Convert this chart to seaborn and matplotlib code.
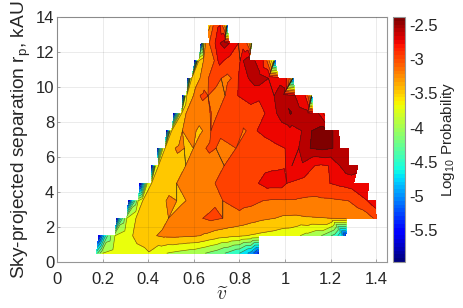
import numpy as np
import matplotlib
matplotlib.use("Agg")
import matplotlib.pyplot as plt
import matplotlib.tri as mtri
import seaborn as sns

# log10 probability read along each separation row (kAU)
x_05 = [.173, .2, .25, .30, .35, .40, .45, .5, .55, .6, .65, .7, .75, .8, .85, .885]
z_05 = [-4.6, -4.0, -3.9, -3.85, -3.8, -3.77, -3.95, -4.03, -4.09, -4.15, -4.25, -4.37, -4.55, -4.75, -5.1, -5.6]
x_15 = [.183, .205, .225, .254, .3, .332, .35, .40, .437, .47, .52, .55, .6, .627, .65, .7, .75, .8, .85, .885, .95, 1.0, 1.066, 1.1, 1.15, 1.22, 1.25, 1.267]
z_15 = [-5.8, -5, -4.4, -4, -3.85, -3.75, -3.71, -3.59, -3.5, -3.46, -3.45, -3.46, -3.48, -3.5, -3.54, -3.63, -3.68, -3.72, -3.77, -3.8, -3.85, -3.91, -4, -4.08, -4.2, -4.6, -5, -5.6]
x_25 = [.262, .275, .29, .306, .346, .4, .45, .489, .55, .6, .639, .68, .727, .75, .8, .85, .9, .956, 1.0, 1.05, 1.1, 1.15, 1.2, 1.27, 1.32, 1.36, 1.40]
z_25 = [-5.9, -5, -4.4, -4, -3.75, -3.65, -3.57, -3.5, -3.4, -3.31, -3.25, -3.2, -3.25, -3.28, -3.33, -3.4, -3.46, -3.5, -3.54, -3.55, -3.52, -3.51, -3.5, -3.48, -3.42, -3.36, -3.2]
x_35 = [.313, .33, .345, .356, .376, .43, .478, .50, .525, .545, .566, .6, .65, .7, .727, .8, .85, .902, .95, 1.0, 1.05, 1.1, 1.15, 1.2, 1.278, 1.32, 1.362, 1.395]
z_35 = [-5.9, -5, -4.4, -4, -3.75, -3.62, -3.5, -3.45, -3.5, -3.53, -3.5, -3.42, -3.35, -3.28, -3.25, -3.15, -3.18, -3.25, -3.28, -3.27, -3.27, -3.29, -3.3, -3.29, -3.25, -3.13, -3, -2.85]
x_45 = [.364, .38, .396, .415, .47, .525, .57, .62, .65, .693, .75, .8, .85, .883, .93, .978, 1.008, 1.05, 1.09, 1.15, 1.197, 1.25, 1.3, 1.365]
z_45 = [-5.9, -5, -4, -3.75, -3.62, -3.5, -3.42, -3.35, -3.31, -3.25, -3.17, -3.1, -3.04, -3, -2.9, -2.9, -3, -3.05, -3.1, -3.05, -3, -2.94, -2.88, -2.75]
x_55 = [.415, .425, .432, .445, .5, .564, .6, .65, .7, .733, .8, .85, .9, .95, 1.0, 1.03, 1.07, 1.13, 1.16, 1.19, 1.24, 1.28, 1.32]
z_55 = [-5.9, -5, -4, -3.75, -3.62, -3.5, -3.45, -3.38, -3.3, -3.25, -3.16, -3.1, -3.07, -3.04, -3.02, -2.75, -2.8, -3, -3.03, -3, -2.75, -2.6, -2.65]
x_65 = [.44, .45, .465, .474, .518, .54, .558, .578, .598, .63, .653, .675, .697, .74, .785, .85, .9, .95, 1.0, 1.03, 1.06, 1.09, 1.11, 1.16, 1.21, 1.24, 1.277]
z_65 = [-5.9, -5, -4, -3.75, -3.5, -3.45, -3.5, -3.55, -3.5, -3.35, -3.25, -3.2, -3.25, -3.33, -3.25, -3.17, -3.1, -3.05, -3, -2.85, -2.75, -2.6, -2.5, -2.45, -2.5, -2.65, -2.75]
x_75 = [.48, .49, .497, .503, .55, .58, .61, .625, .639, .66, .675, .7, .74, .794, .81, .82, .83, .85, .877, .92, .97, 1.02, 1.073, 1.1, 1.117, 1.16, 1.175, 1.21, 1.235]
z_75 = [-5.9, -5, -4, -3.75, -3.5, -3.42, -3.5, -3.55, -3.5, -3.35, -3.25, -3.19, -3.12, -3.25, -3.22, -3.28, -3.25, -3.1, -3, -2.94, -2.88, -2.81, -2.75, -2.6, -2.5, -2.42, -2.42, -2.5, -2.7]
x_85 = [.513, .525, .54, .547, .566, .6, .62, .665, .674, .683, .705, .75, .8, .85, .912, .94, .963, 1.0, 1.025, 1.05, 1.1, 1.12, 1.146, 1.175]
z_85 = [-5.9, -5, -4, -3.75, -3.5, -3.43, -3.38, -3.3, -3.23, -3.3, -3.25, -3.18, -3.1, -3.05, -3, -2.85, -2.75, -2.62, -2.48, -2.62, -2.7, -2.72, -2.75, -3.1]
x_95 = [.551, .558, .563, .569, .598, .62, .627, .645, .662, .70, .737, .765, .793, .85, .90, .952, .99, 1.044, 1.088, 1.10, 1.108, 1.112, 1.115, 1.118]
z_95 = [-5.9, -5, -4, -3.75, -3.5, -3.3, -3.25, -3.2, -3.25, -3.35, -3.25, -3.1, -3, -2.95, -2.98, -2.75, -2.55, -2.75, -3, -3.25, -3.5, -3.75, -4, -5.5]
x_105 = [.573, .58, .585, .591, .627, .645, .664, .695, .72, .742, .765, .78, .795, .82, .839, .88, .927, .97, 1.007, 1.018, 1.025, 1.03, 1.033, 1.036]
z_105 = [-5.9, -5, -4, -3.75, -3.5, -3.35, -3.25, -3.15, -3.25, -3.3, -3.25, -3.1, -3, -2.88, -2.75, -2.6, -2.75, -2.88, -3, -3.25, -3.5, -3.75, -4, -5.5]
x_115 = [.605, .612, .617, .622, .642, .67, .69, .706, .718, .73, .76, .803, .817, .842, .868, .885, .904, .92, .93, .94, .95, .956]
z_115 = [-5.9, -5, -4, -3.75, -3.5, -3.35, -3.25, -3, -2.95, -3, -3.1, -3, -2.75, -2.6, -2.75, -2.88, -3, -3.25, -3.5, -3.75, -4, -5.5]
x_125 = [.632, .638, .642, .646, .652, .668, .693, .715, .735, .755, .775, .795, .815, .832, .842, .848, .852, .855]
z_125 = [-5.9, -5, -4, -3.75, -3.5, -3.25, -3, -2.75, -2.65, -2.75, -2.88, -3, -3.12, -3.25, -3.5, -3.75, -4, -5]
x_135 = [.663, .672, .685, .705, .715, .725, .735, .74, .743, .746]
z_135 = [-3.6, -3.5, -3.25, -3.02, -3, -3.25, -3.5, -3.75, -4, -5.5]

rows_y = [.5, 1.5, 2.5, 3.5, 4.5, 5.5, 6.5, 7.5, 8.5, 9.5, 10.5, 11.5, 12.5, 13.5]
rows_x = [x_05, x_15, x_25, x_35, x_45, x_55, x_65, x_75, x_85, x_95, x_105, x_115, x_125, x_135]
rows_z = [z_05, z_15, z_25, z_35, z_45, z_55, z_65, z_75, z_85, z_95, z_105, z_115, z_125, z_135]

levels = [-6, -5.75, -5.5, -5.25, -5, -4.75, -4.5, -4.25, -4, -3.75, -3.5, -3.25, -3, -2.75, -2.5, -2.25]
x_ticks = [0, .2, .4, .6, .8, 1, 1.2, 1.4]
x_labels = ['0', '0.2', '0.4', '0.6', '0.8', '1', '1.2', '1.4']
y_ticks = [0, 2, 4, 6, 8, 10, 12, 14]
cbar_ticks = [-5.5, -5, -4.5, -4, -3.5, -3, -2.5]
cbar_labels = ['-5.5', '-5', '-4.5', '-4', '-3.5', '-3', '-2.5']


def strip(a_idx, a_x, b_idx, b_x):
    # triangles between two neighbouring rows, only where they overlap
    lo, hi = max(a_x[0], b_x[0]), min(a_x[-1], b_x[-1])
    i = int(np.argmin(np.abs(np.array(a_x) - lo)))
    j = int(np.argmin(np.abs(np.array(b_x) - lo)))
    i_end = int(np.argmin(np.abs(np.array(a_x) - hi)))
    j_end = int(np.argmin(np.abs(np.array(b_x) - hi)))
    tris = []
    while i < i_end or j < j_end:
        if j >= j_end or (i < i_end and a_x[i + 1] <= b_x[j + 1]):
            tris.append([a_idx + i, a_idx + i + 1, b_idx + j])
            i += 1
        else:
            tris.append([a_idx + i, b_idx + j + 1, b_idx + j])
            j += 1
    return tris


sns.set_theme(style="whitegrid", rc={
    'font.family': ['Liberation Sans', 'DejaVu Sans'],
    'mathtext.fontset': 'custom',
    'mathtext.rm': 'Liberation Sans',
    'mathtext.it': 'Liberation Sans:italic',
    'axes.edgecolor': '#969696',
    'axes.linewidth': 0.8,
    'text.color': '#262626',
    'axes.labelcolor': '#262626',
    'xtick.color': '#262626',
    'ytick.color': '#262626',
    'contour.negative_linestyle': 'solid',
})

xs, ys, zs, starts = [], [], [], []
for y, rx, rz in zip(rows_y, rows_x, rows_z):
    starts.append(len(xs))
    xs += rx
    ys += [y] * len(rx)
    zs += rz
triangles = []
for k in range(len(rows_y) - 1):
    triangles += strip(starts[k], rows_x[k], starts[k + 1], rows_x[k + 1])
tri = mtri.Triangulation(xs, ys, triangles)

cmap = matplotlib.colormaps['jet'].resampled(64)
norm = matplotlib.colors.Normalize(-5.97, -2.38)
# each band takes the colour of its upper level
band_colors = [cmap(norm(v + 0.03)) for v in levels[1:]]
band_colors[-2] = (0.72, 0, 0, 1)
band_colors[-1] = (0.5, 0, 0, 1)

fig = plt.figure(figsize=(4.63, 3.08), dpi=100)
ax = fig.add_axes([57 / 463, 1 - 262 / 308, 330 / 463, 245 / 308])
ax.tricontourf(tri, zs, levels=levels, colors=band_colors)
ax.tricontour(tri, zs, levels=levels[1:-1], colors='k', linewidths=0.45, alpha=0.65)

ax.set_xlim(0, 1.447)
ax.set_ylim(0, 14)
ax.set_xticks(x_ticks, x_labels)
ax.set_yticks(y_ticks)
ax.tick_params(labelsize=12, length=2, width=0.6, direction='in', color='#969696',
               bottom=True, left=True)
ax.tick_params(axis='x', pad=7)
ax.tick_params(axis='y', pad=2)
ax.set_axisbelow(False)
ax.grid(True, color='k', alpha=0.1, linewidth=0.6)
ax.set_xlabel(r'$\widetilde{v}$', fontsize=14, math_fontfamily='cm', labelpad=0)
ax.set_ylabel(r'Sky-projected separation r$_{\mathrm{p}}$, kAU', fontsize=13.8, labelpad=2)
sns.despine(ax=ax, top=False, right=False)

cax = fig.add_axes([393 / 463, 1 - 262 / 308, 12 / 463, 245 / 308])
cb = fig.colorbar(matplotlib.cm.ScalarMappable(norm=norm, cmap=cmap), cax=cax)
cb.set_ticks(cbar_ticks, labels=cbar_labels)
cb.ax.tick_params(labelsize=12, length=2, width=0.6, direction='in', pad=3, color='#969696')
cb.set_label(r'Log$_{10}$ Probability', fontsize=11, labelpad=1)
cb.outline.set_edgecolor('#969696')
cb.outline.set_linewidth(0.8)

fig.savefig('out.png', dpi=100)
